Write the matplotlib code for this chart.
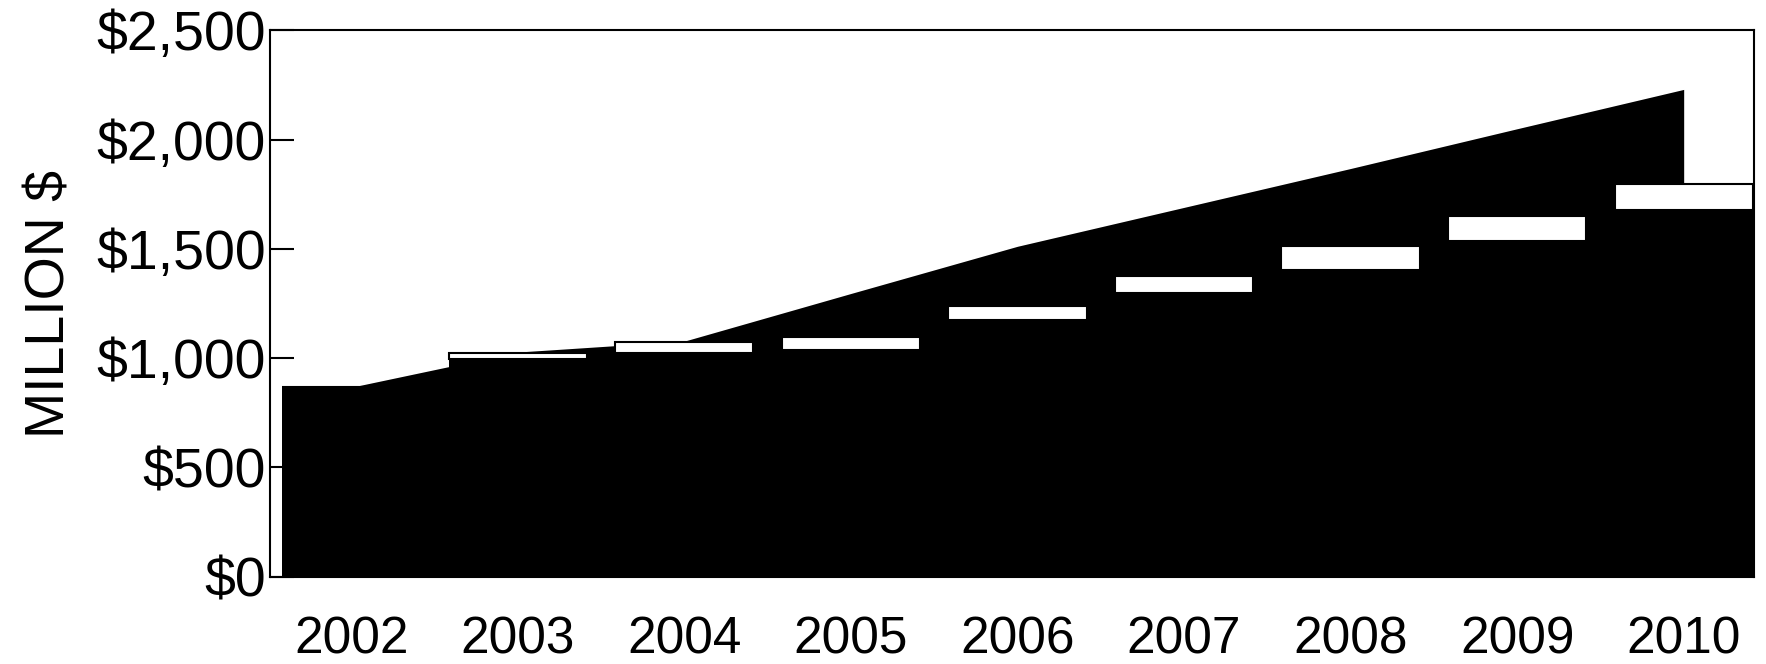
import matplotlib.pyplot as plt
import numpy as np

plt.rcParams['font.family'] = ['Liberation Sans', 'DejaVu Sans']

years = [2002, 2003, 2004, 2005, 2006, 2007, 2008, 2009, 2010]
# trend area (upper edge of the black fill)
trend = [867, 1028, 1078, 1296, 1512, 1690, 1868, 2050, 2230]
# stacked bars: solid lower part, white upper part
bar_base = [867, 995, 1024, 1036, 1176, 1299, 1402, 1536, 1678]
bar_top = [867, 1022, 1076, 1098, 1238, 1374, 1513, 1650, 1796]
yticks = [0, 500, 1000, 1500, 2000, 2500]
ytick_labels = ['$0', '$500', '$1,000', '$1,500', '$2,000', '$2,500']

x = np.array(years)
base = np.array(bar_base)
top = np.array(bar_top)

fig = plt.figure(figsize=(17.66, 6.64), dpi=100)
ax = fig.add_axes([0.1529, 0.1315, 0.8401, 0.8227])

ax.fill_between(x, 0, trend, color='black', linewidth=0, zorder=1)
ax.bar(x, base, width=0.83, color='black', linewidth=0, zorder=2)
ax.bar(x, top - base, bottom=base, width=0.83, color='white',
       edgecolor='black', linewidth=1.5, zorder=3)

ax.set_xlim(2001.513, 2010.42)
ax.set_ylim(0, 2500)

ax.set_xticks(years)
ax.set_xticklabels([str(y) for y in years], fontsize=37)
ax.tick_params(axis='x', length=0, pad=28)

ax.set_yticks(yticks)
ax.set_yticklabels(ytick_labels, fontsize=40)
ax.tick_params(axis='y', direction='in', length=17, width=1.5, pad=3)

ax.set_ylabel('MILLION $', fontsize=40, labelpad=14)

for s in ax.spines.values():
    s.set_linewidth(1.5)
    s.set_zorder(4)

fig.savefig('out.png', dpi=100, facecolor='white')
